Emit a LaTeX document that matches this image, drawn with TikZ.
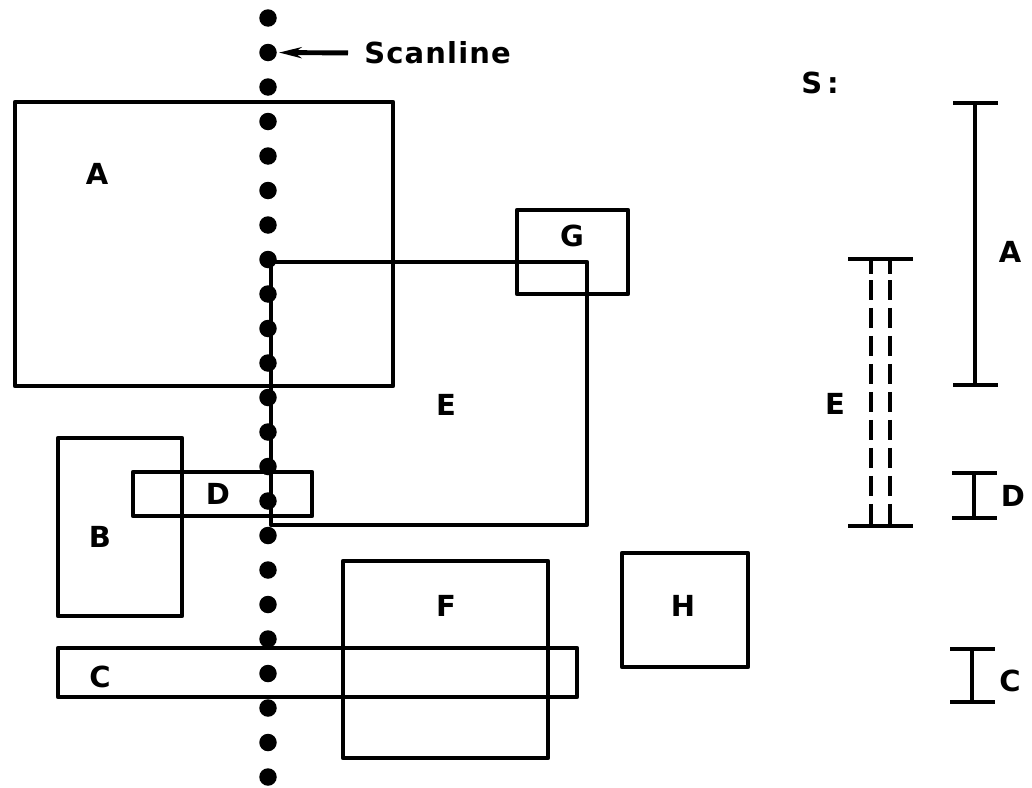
\documentclass[tikz,border=0pt]{standalone}
\usepackage{fontspec}
\newfontfamily\lettering{DejaVu Sans Bold}[LetterSpace=4]
\usetikzlibrary{arrows.meta}
\begin{document}
\begin{tikzpicture}[x=0.02cm, y=-0.02cm, >={Stealth[length=0.45cm, width=0.22cm]},
  line width=2.6pt, line join=round,
  lbl/.style={font=\lettering\fontsize{16.5}{19}\selectfont, inner sep=0pt},
  dot/.style={circle, fill, inner sep=0pt, minimum size=0.35cm}]
\useasboundingbox (0,0) rectangle (1032,788);
% scanline
\foreach \k in {0,...,22} \node[dot] (s\k) at (268,{18+34.5*\k}) {};
\node[lbl, anchor=west] (scan) at (362,53) {Scanline};
\draw[->, line width=2.8pt, shorten <=0.28cm] (scan.west) -- (s1);
% rectangles
\draw (15,102) rectangle (393,386);
\draw (58,438) rectangle (182,616);
\draw (58,648) rectangle (577,697);
\draw (133,472) rectangle (312,516);
\draw (271,262) rectangle (587,525);
\draw (343,561) rectangle (548,758);
\draw (517,210) rectangle (628,294);
\draw (622,553) rectangle (748,667);
\node[lbl] (a) at (97,174) {A};
\node[lbl] (b) at (100,537) {B};
\node[lbl] (c) at (100,677) {C};
\node[lbl] (d) at (218,494) {D};
\node[lbl] (e) at (446,405) {E};
\node[lbl] (f) at (446,606) {F};
\node[lbl] (g) at (572,236) {G};
\node[lbl] (h) at (683,606) {H};
% the list S
\node[lbl] (s) at (820,83) {S\,:};
\draw (953,103) -- (998,103);
\draw (975,103) -- (975,385);
\draw (953,385) -- (998,385);
\node[lbl] (ia) at (1010,252) {A};
\draw (848,259) -- (913,259);
\draw (848,526) -- (913,526);
\foreach \x in {871,890} {
  \draw[dash pattern=on 0.4cm off 0.16cm] (\x,280) -- (\x,512);
  \draw (\x,259) -- (\x,274);
  \draw (\x,512) -- (\x,526);
}
\node[lbl] (ie) at (835,404) {E};
\draw (952,473) -- (997,473);
\draw (974,473) -- (974,518);
\draw (952,518) -- (997,518);
\node[lbl] (id) at (1013,496) {D};
\draw (950,649) -- (995,649);
\draw (972,649) -- (972,702);
\draw (950,702) -- (995,702);
\node[lbl] (ic) at (1010,681) {C};
\end{tikzpicture}
\end{document}
